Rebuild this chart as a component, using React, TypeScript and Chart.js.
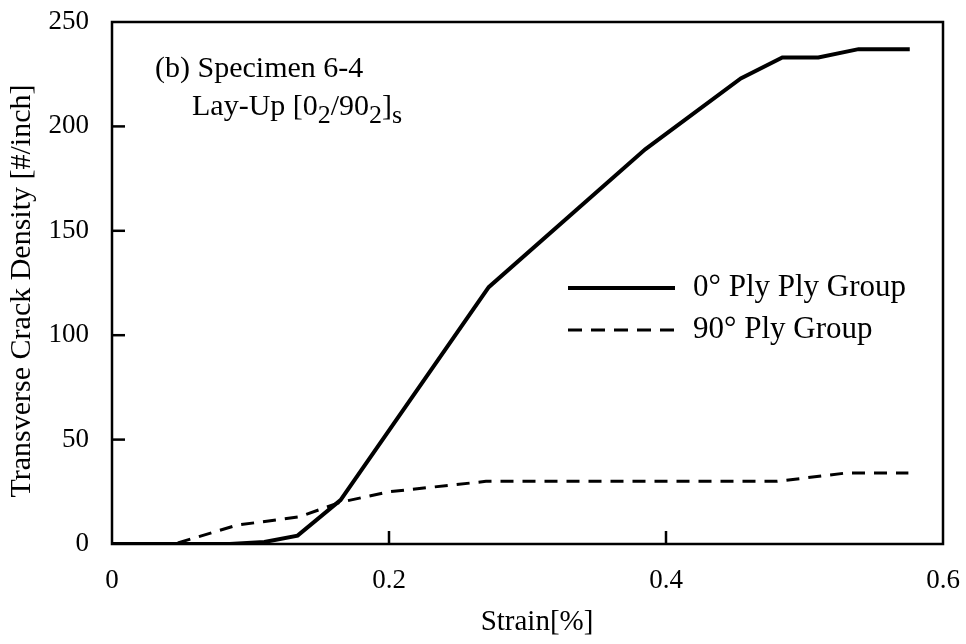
import React, { useEffect, useRef } from "react";
import { Chart, registerables } from "chart.js";

Chart.register(...registerables);

// ---- data ----
const strain0 = [0, 0.085, 0.11, 0.134, 0.165, 0.272, 0.385, 0.454, 0.484, 0.51, 0.539, 0.576];
const density0 = [0, 0, 1, 4, 21, 123, 189, 223, 233, 233, 237, 237];
const strain90 = [0, 0.045, 0.09, 0.135, 0.165, 0.2, 0.27, 0.48, 0.53, 0.575];
const density90 = [0, 0, 9, 13, 20, 25, 30, 30, 34, 34];

const seriesNames = ["0° Ply Ply Group", "90° Ply Group"];
const xTickLabels = ["0", "0.2", "0.4", "0.6"];
const xTickMarks = [0.2, 0.4];
const yTickMarks = [50, 100, 150, 200];
const xTitle = "Strain[%]";
const yTitle = "Transverse Crack Density [#/inch]";
const noteLine1 = "(b) Specimen 6-4";
// [text, isSubscript]
const noteLine2: [string, boolean][] = [
  ["Lay-Up [0", false],
  ["2", true],
  ["/90", false],
  ["2", true],
  ["]", false],
  ["s", true],
];

const FONT = '"Liberation Serif", "Times New Roman", serif';

const decorPlugin = {
  id: "decor",
  afterDraw(chart: any) {
    const { ctx, chartArea: a } = chart;
    const xs = chart.scales.x;
    const ys = chart.scales.y;
    ctx.save();
    ctx.strokeStyle = "#000";
    ctx.fillStyle = "#000";
    // frame
    ctx.lineWidth = 2.5;
    ctx.setLineDash([]);
    ctx.strokeRect(a.left, a.top, a.right - a.left, a.bottom - a.top);
    // inward tick marks
    yTickMarks.forEach((v) => {
      const py = ys.getPixelForValue(v);
      ctx.beginPath();
      ctx.moveTo(a.left, py);
      ctx.lineTo(a.left + 13, py);
      ctx.stroke();
    });
    xTickMarks.forEach((v) => {
      const px = xs.getPixelForValue(v);
      ctx.beginPath();
      ctx.moveTo(px, a.bottom);
      ctx.lineTo(px, a.bottom - 13);
      ctx.stroke();
    });
    // axis titles
    ctx.textBaseline = "middle";
    ctx.textAlign = "center";
    ctx.font = `29px ${FONT}`;
    ctx.fillText(xTitle, 537, 622);
    ctx.save();
    ctx.translate(22, 291);
    ctx.rotate(-Math.PI / 2);
    ctx.font = `30px ${FONT}`;
    ctx.fillText(yTitle, 0, 0);
    ctx.restore();
    // annotation
    ctx.textAlign = "left";
    ctx.font = `30px ${FONT}`;
    ctx.fillText(noteLine1, 155, 69);
    let cx = 192;
    noteLine2.forEach(([t, sub]) => {
      ctx.font = sub ? `26px ${FONT}` : `30px ${FONT}`;
      ctx.fillText(t, cx, sub ? 116 : 107);
      cx += ctx.measureText(t).width;
    });
    // legend
    const legY = [288, 330];
    ctx.lineWidth = 4;
    ctx.beginPath();
    ctx.moveTo(568, legY[0]);
    ctx.lineTo(675, legY[0]);
    ctx.stroke();
    ctx.lineWidth = 3;
    ctx.setLineDash([14, 9]);
    ctx.beginPath();
    ctx.moveTo(568, legY[1]);
    ctx.lineTo(675, legY[1]);
    ctx.stroke();
    ctx.setLineDash([]);
    ctx.font = `31px ${FONT}`;
    ctx.fillText(seriesNames[0], 693, legY[0]);
    ctx.fillText(seriesNames[1], 693, legY[1]);
    ctx.restore();
  },
};

export default function App() {
  const ref = useRef<HTMLCanvasElement>(null);
  useEffect(() => {
    document.body.style.margin = "0";
    const canvas = ref.current!;
    const chart = new Chart(canvas, {
      type: "line",
      data: {
        datasets: [
          {
            label: seriesNames[0],
            data: strain0.map((x, i) => ({ x, y: density0[i] })),
            borderColor: "#000",
            borderWidth: 4,
            pointRadius: 0,
            tension: 0,
            fill: false,
          },
          {
            label: seriesNames[1],
            data: strain90.map((x, i) => ({ x, y: density90[i] })),
            borderColor: "#000",
            borderWidth: 3,
            borderDash: [13, 9],
            pointRadius: 0,
            tension: 0,
            fill: false,
          },
        ],
      },
      options: {
        responsive: false,
        animation: false,
        layout: { padding: { top: 22, right: 23, left: 0, bottom: 0 } },
        plugins: { legend: { display: false }, tooltip: { enabled: false } },
        scales: {
          x: {
            type: "linear",
            min: 0,
            max: 0.6,
            grid: { display: false, drawTicks: false },
            border: { display: false },
            afterFit: (s: any) => {
              s.height = 100;
              s.paddingLeft = 0;
              s.paddingRight = 0;
            },
            afterBuildTicks: (s: any) => {
              s.ticks = xTickLabels.map((_, i) => ({ value: i * 0.2 }));
            },
            ticks: {
              padding: 21,
              color: "#000",
              font: { family: FONT, size: 27 },
              maxRotation: 0,
              callback: (_v: any, i: number) => xTickLabels[i],
            },
          },
          y: {
            type: "linear",
            min: 0,
            max: 250,
            grid: { display: false, drawTicks: false },
            border: { display: false },
            afterFit: (s: any) => {
              s.width = 112;
              s.paddingTop = 0;
              s.paddingBottom = 0;
            },
            ticks: {
              stepSize: 50,
              padding: 23,
              color: "#000",
              font: { family: FONT, size: 27 },
            },
          },
        },
      },
      plugins: [decorPlugin],
    });
    return () => chart.destroy();
  }, []);
  return (
    <div style={{ position: "absolute", left: 0, top: 0, width: 966, height: 644 }}>
      <canvas ref={ref} width={966} height={644} style={{ display: "block" }} />
    </div>
  );
}
